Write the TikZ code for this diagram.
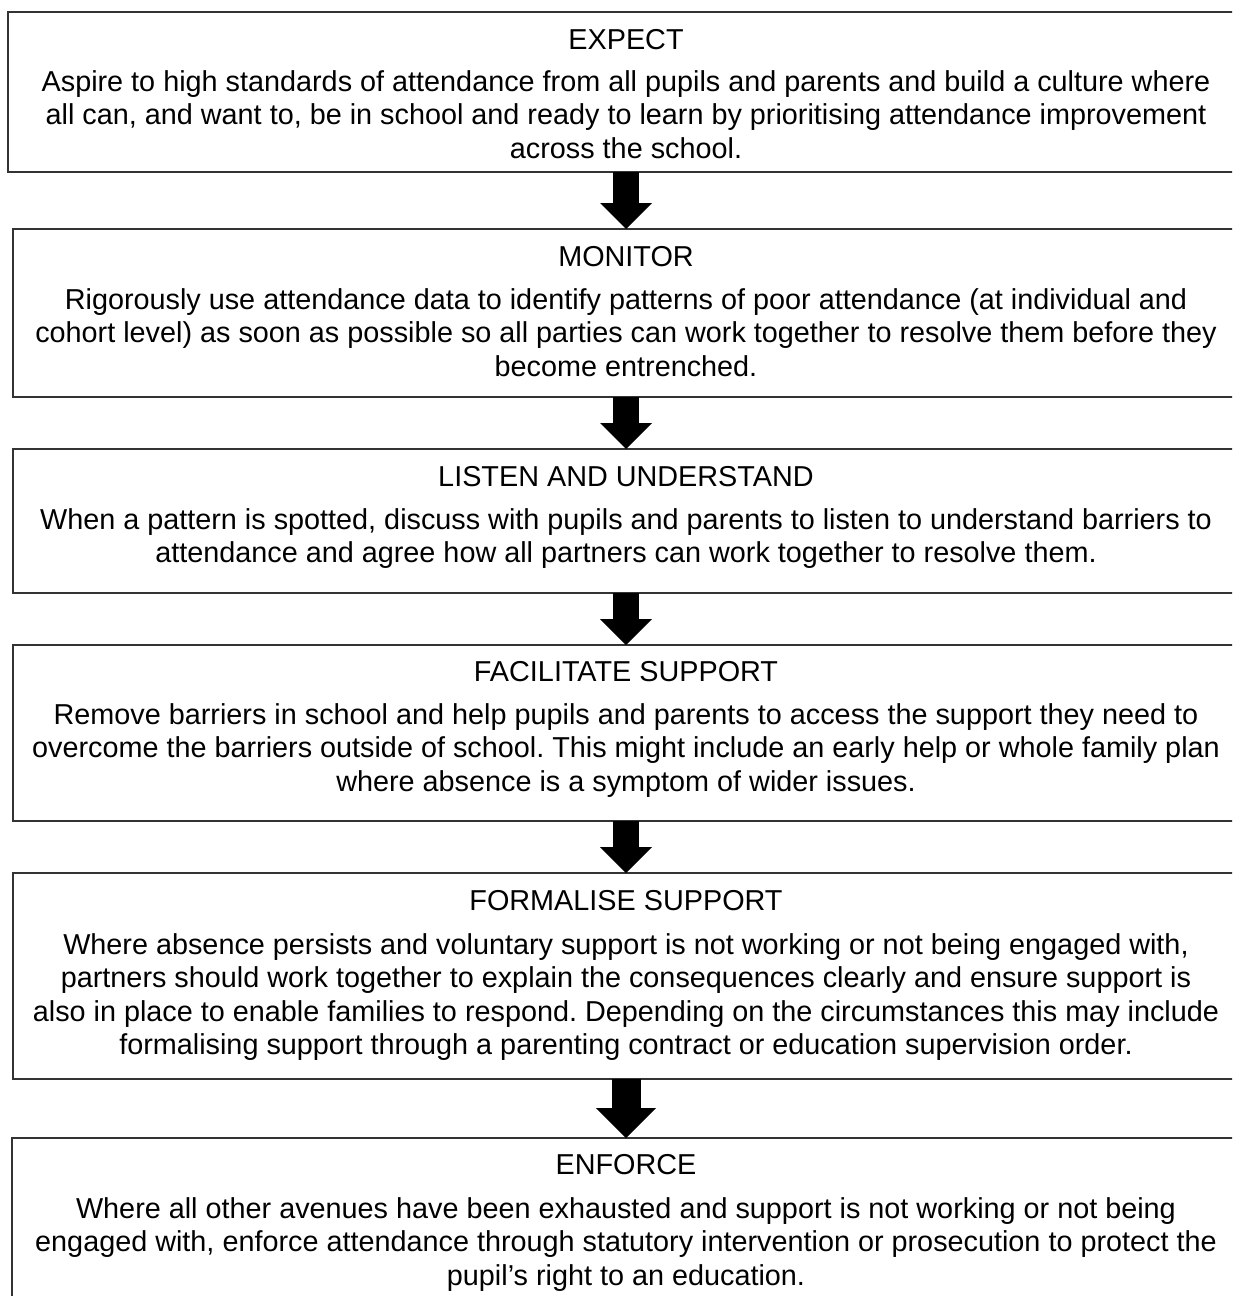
\documentclass[tikz,border=0pt]{standalone}
\usepackage{fontspec}
\setmainfont{Liberation Sans}
\usetikzlibrary{arrows.meta}
\frenchspacing
\tikzset{
  stagebox/.style={draw=black!80, line width=1.8pt, fill=none, rectangle, inner sep=0pt, outer sep=0pt},
  titletext/.style={anchor=base, inner sep=0pt, font=\fontsize{28.8}{33.5}\selectfont},
  bodytext/.style={anchor=north, inner sep=0pt, align=center, font=\fontsize{28.8}{33.5}\selectfont},
  flowarrow/.style={draw=black, line width=26pt, -{Triangle[width=52pt,length=26pt,line width=0pt]}},
}
\begin{document}
\begin{tikzpicture}[x=1pt,y=-1pt]
\useasboundingbox (0,0) rectangle (1232,1296);
\clip (0,0) rectangle (1232,1296);
\fill[white] (0,0) rectangle (1232,1296);
% boxes
\node[stagebox, minimum width=1236pt, minimum height=160pt] (b1) at (626,92) {};
\node[stagebox, minimum width=1226pt, minimum height=168pt] (b2) at (626,313) {};
\node[stagebox, minimum width=1226pt, minimum height=144pt] (b3) at (626,521) {};
\node[stagebox, minimum width=1226pt, minimum height=176pt] (b4) at (626,733) {};
\node[stagebox, minimum width=1226pt, minimum height=206pt] (b5) at (626,976) {};
\node[stagebox, minimum width=1228pt, minimum height=172pt] (b6) at (626,1224) {};
% texts
\node[titletext] (t1) at (626,49) {EXPECT};
\node[bodytext] (d1) at (626,70) {Aspire to high standards of attendance from all pupils and parents and build a culture where\\ all can, and want to, be in school and ready to learn by prioritising attendance improvement\\ across the school.};
\node[titletext] (t2) at (626,266) {MONITOR};
\node[bodytext] (d2) at (626,288) {Rigorously use attendance data to identify patterns of poor attendance (at individual and\\ cohort level) as soon as possible so all parties can work together to resolve them before they\\ become entrenched.};
\node[titletext] (t3) at (626,486) {LISTEN AND UNDERSTAND};
\node[bodytext] (d3) at (626,508) {When a pattern is spotted, discuss with pupils and parents to listen to understand barriers to\\ attendance and agree how all partners can work together to resolve them.};
\node[titletext] (t4) at (626,681) {FACILITATE SUPPORT};
\node[bodytext] (d4) at (626,703) {Remove barriers in school and help pupils and parents to access the support they need to\\ overcome the barriers outside of school. This might include an early help or whole family plan\\ where absence is a symptom of wider issues.};
\node[titletext] (t5) at (626,910) {FORMALISE SUPPORT};
\node[bodytext] (d5) at (626,933) {Where absence persists and voluntary support is not working or not being engaged with,\\ partners should work together to explain the consequences clearly and ensure support is\\ also in place to enable families to respond. Depending on the circumstances this may include\\ formalising support through a parenting contract or education supervision order.};
\node[titletext] (t6) at (626,1174) {ENFORCE};
\node[bodytext] (d6) at (626,1197) {Where all other avenues have been exhausted and support is not working or not being\\ engaged with, enforce attendance through statutory intervention or prosecution to protect the\\ pupil’s right to an education.};
% arrows
\draw[flowarrow] (b1.south) -- (b2.north);
\draw[flowarrow] (b2.south) -- (b3.north);
\draw[flowarrow] (b3.south) -- (b4.north);
\draw[flowarrow] (b4.south) -- (b5.north);
\draw[flowarrow, line width=29pt, -{Triangle[width=60pt,length=30pt,line width=0pt]}] (b5.south) -- (b6.north);
\end{tikzpicture}
\end{document}
